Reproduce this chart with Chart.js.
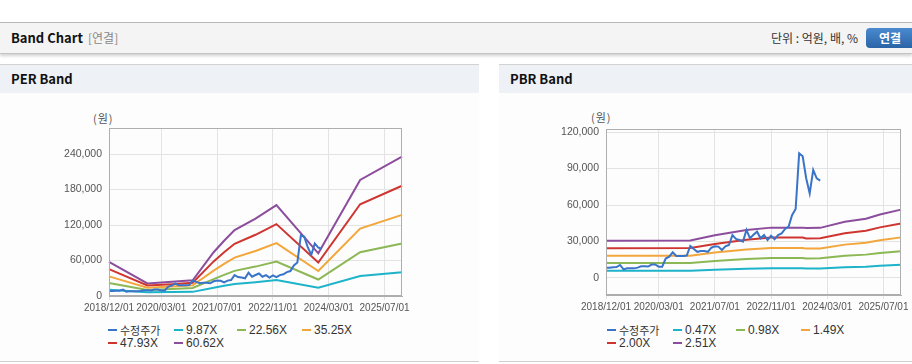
<!DOCTYPE html>
<html>
<head>
<meta charset="utf-8">
<script src="https://cdn.jsdelivr.net/npm/chart.js@4.4.1/dist/chart.umd.min.js"></script>
<style>
  html, body { margin:0; padding:0; }
  body { width:912px; height:364px; position:relative; overflow:hidden; background:#fff;
         font-family:'Noto Sans CJK KR','Liberation Sans',sans-serif; }
  #topbar { position:absolute; left:0; top:22px; width:912px; height:30px; background:#f4f4f4;
            border-top:1px solid #b9b9b9; border-bottom:1px solid #c4c4c4; box-shadow:0 2px 3px rgba(0,0,0,0.18); }
  #title { position:absolute; left:11px; top:6px; font-size:13px; font-weight:bold; color:#111; line-height:18px; }
  #sub { position:absolute; left:88px; top:6px; font-size:12px; color:#888; line-height:18px; }
  #unit { position:absolute; left:771px; top:6px; font-size:12px; color:#333; line-height:18px; }
  #btn { position:absolute; left:866px; top:5px; width:52px; height:20px; border-radius:4px;
         background:linear-gradient(#4a8ad0,#2a64a6); color:#fff; font-size:12px; font-weight:bold;
         line-height:20px; text-indent:13px; }
  .phead { position:absolute; top:64px; height:28px; background:#eef2f7; border-top:1px solid #d2d2d2; }
  .phead span { position:absolute; left:11px; top:5px; font-size:13px; font-weight:bold; color:#111; line-height:18px; }
  .pbody { position:absolute; top:93px; height:268px; background:#fdfdfd; border-bottom:1px solid #cfcfcf; }
  .unitlbl { position:absolute; font-size:11px; color:#555; line-height:14px; letter-spacing:1px; }
  canvas { position:absolute; }
  .legend { position:absolute; display:grid; grid-template-columns:66px 63px 65px 65px; row-gap:0px; }
  .li { height:13px; display:flex; align-items:center; font-family:'Liberation Sans',sans-serif; font-size:12px; color:#333; white-space:nowrap; }
  .li i { display:inline-block; width:9px; height:2px; margin-right:3px; }
  .li .ko { font-family:'Noto Sans CJK KR',sans-serif; font-size:11px; }
</style>
</head>
<body>
<div id="topbar">
  <div id="title">Band Chart</div>
  <div id="sub">[연결]</div>
  <div id="unit">단위 : 억원, 배, %</div>
  <div id="btn">연결</div>
</div>

<div class="phead" style="left:0;width:479px;"><span>PER Band</span></div>
<div class="phead" style="left:499px;width:413px;"><span>PBR Band</span></div>
<div class="pbody" style="left:0;width:479px;"></div>
<div class="pbody" style="left:499px;width:413px;"></div>

<div class="unitlbl" style="left:93px;top:111px;">(원)</div>
<div class="unitlbl" style="left:591px;top:110px;">(원)</div>

<canvas id="per" width="479" height="222" style="left:0;top:95px;width:479px;height:222px;"></canvas>
<canvas id="pbr" width="413" height="222" style="left:499px;top:95px;width:413px;height:222px;"></canvas>

<div class="legend" id="perLegend" style="left:108px;top:323px;"></div>
<div class="legend" id="pbrLegend" style="left:607px;top:323px;"></div>

<script>
// ---- categories (monthly) ----
const labels = [
 '2018/12/01',
 '2019/01/01','2019/02/01','2019/03/01','2019/04/01','2019/05/01','2019/06/01','2019/07/01','2019/08/01','2019/09/01','2019/10/01','2019/11/01','2019/12/01',
 '2020/01/01','2020/02/01','2020/03/01','2020/04/01','2020/05/01','2020/06/01','2020/07/01','2020/08/01','2020/09/01','2020/10/01','2020/11/01','2020/12/01',
 '2021/01/01','2021/02/01','2021/03/01','2021/04/01','2021/05/01','2021/06/01','2021/07/01','2021/08/01','2021/09/01','2021/10/01','2021/11/01','2021/12/01',
 '2022/01/01','2022/02/01','2022/03/01','2022/04/01','2022/05/01','2022/06/01','2022/07/01','2022/08/01','2022/09/01','2022/10/01','2022/11/01','2022/12/01',
 '2023/01/01','2023/02/01','2023/03/01','2023/04/01','2023/05/01','2023/06/01','2023/07/01','2023/08/01','2023/09/01','2023/10/01','2023/11/01','2023/12/01',
 '2024/01/01','2024/02/01','2024/03/01','2024/04/01','2024/05/01','2024/06/01','2024/07/01','2024/08/01','2024/09/01','2024/10/01','2024/11/01','2024/12/01',
 '2025/01/01','2025/02/01','2025/03/01','2025/04/01','2025/05/01','2025/06/01','2025/07/01','2025/08/01','2025/09/01','2025/10/01','2025/11/01','2025/12/01'
];
const tickLabels = ['2018/12/01','2020/03/01','2021/07/01','2022/11/01','2024/03/01','2025/07/01'];

// ---- adjusted share price (수정주가), monthly ----
const price = [8500,8500,8800,9000,10700,7100,7900,7900,7900,8500,9600,9600,9400,11000,11100,9300,9300,16000,17500,21100,
  18100,18100,18100,18500,26300,23800,21500,22200,22200,21500,24900,26000,25800,23000,26000,27100,35300,32100,31200,29900,
  39500,32600,35500,38100,32600,35300,31200,34800,31800,35300,36700,40300,42200,51800,56700,102500,100000,82000,69600,88800,
  81900,80000];

// ---- PER band values at knot months ----
const perDates = ['2018/12/01','2019/11/01','2020/06/01','2020/12/01','2021/06/01','2021/09/01','2021/12/01','2022/06/01','2022/12/01','2023/12/01','2024/12/01','2025/12/01'];
const per987  = [10500, 6400, 6600, 7000, 14000, 17200, 20200, 23300, 27000, 14000, 33900, 40200];
const per2256 = [22000, 10200, 12000, 13500, 28500, 35700, 42500, 49700, 58200, 27900, 74000, 88800];
const per3525 = [33200, 14000, 16000, 18200, 43000, 54300, 64900, 76100, 89400, 42300, 114000, 137100];
const per4793 = [45500, 17800, 20000, 22300, 58500, 73800, 88200, 103500, 121500, 56700, 155100, 186400];
const per6062 = [57500, 21200, 24000, 26500, 74000, 93400, 111500, 130900, 153700, 72100, 196100, 235800];

// ---- PBR band values at knot months ----
const pbrDates = ['2018/12/01','2020/12/01','2021/07/01','2022/04/01','2022/11/01','2023/08/01','2023/09/01','2024/01/01','2024/08/01','2025/02/01','2025/06/01','2025/12/01'];
const pbr047 = [6000, 6000, 6700, 7500, 7900, 7900, 7800, 7800, 8800, 9300, 10000, 10900];
const pbr098 = [12300, 12300, 13900, 15600, 16500, 16500, 16100, 16200, 18200, 19200, 20600, 21900];
const pbr149 = [18220, 18330, 20860, 23390, 24730, 24730, 24140, 24290, 27420, 28910, 30990, 33380];
const pbr200 = [24460, 24600, 28000, 31400, 33200, 33200, 32400, 32600, 36800, 38800, 41600, 44800];
const pbr251 = [30700, 30870, 35140, 39410, 41400, 41400, 41100, 41200, 46180, 48690, 52210, 56220];

const perTicks = [0, 60000, 120000, 180000, 240000];
const pbrTicks = [0, 30000, 60000, 90000, 120000];

const colors = { price:'#3a74c8', c1:'#1db3c9', c2:'#8cb755', c3:'#f2a63c', c4:'#cf3530', c5:'#8c4d9c' };

const pts = (dates, vals) => dates.map((d, k) => ({ x: d, y: vals[k] }));

Chart.defaults.font.family = "'Liberation Sans',Arial,sans-serif";
Chart.defaults.font.size = 10;
Chart.defaults.color = '#555';

const boxPlugin = {
  id: 'box',
  afterDraw(chart) {
    const a = chart.chartArea, ctx = chart.ctx;
    ctx.save();
    ctx.strokeStyle = '#aeaeae';
    ctx.lineWidth = 1;
    ctx.strokeRect(Math.round(a.left) + 0.5, Math.round(a.top) + 0.5, Math.round(a.right - a.left) - 1, Math.round(a.bottom - a.top) - 1);
    ctx.restore();
  }
};

function makeChart(id, series, names, yMin, yMax, yTicks, pad, yWidth, xHeight) {
  const keys = ['price','c1','c2','c3','c4','c5'];
  const datasets = series.map((s, k) => ({
    label: names[k], data: s, borderColor: colors[keys[k]], backgroundColor: colors[keys[k]],
    borderWidth: 2, pointRadius: 0, tension: 0, fill: false
  }));
  return new Chart(document.getElementById(id), {
    type: 'line',
    data: { labels, datasets },
    options: {
      responsive: false, animation: false, devicePixelRatio: 1,
      layout: { padding: pad },
      plugins: { legend: { display: false }, tooltip: { enabled: false } },
      scales: {
        x: {
          type: 'category',
          afterBuildTicks: ax => { ax.ticks = ax.ticks.filter(t => tickLabels.includes(labels[t.value])); },
          afterFit: ax => { ax.height = xHeight; },
          grid: { color: '#e3e3e3', tickLength: 4 },
          border: { color: '#aeaeae' },
          ticks: { autoSkip: false, maxRotation: 0, minRotation: 0, padding: 2, color: '#555' }
        },
        y: {
          min: yMin, max: yMax,
          afterBuildTicks: ax => { ax.ticks = yTicks.map(v => ({ value: v })); },
          afterFit: ax => { ax.width = yWidth; },
          grid: { color: '#e3e3e3', drawTicks: false },
          border: { color: '#aeaeae' },
          ticks: { padding: 7, color: '#555', font: { size: 10.5 }, callback: v => Number(v).toLocaleString('en-US') }
        }
      }
    },
    plugins: [boxPlugin]
  });
}

const perNames = ['수정주가','9.87X','22.56X','35.25X','47.93X','60.62X'];
const pbrNames = ['수정주가','0.47X','0.98X','1.49X','2.00X','2.51X'];

makeChart('per',
  [price, pts(perDates, per987), pts(perDates, per2256), pts(perDates, per3525), pts(perDates, per4793), pts(perDates, per6062)],
  perNames, 0, 284000, perTicks, { left: 0, right: 77, top: 33, bottom: 0 }, 109, 21);

makeChart('pbr',
  [price, pts(pbrDates, pbr047), pts(pbrDates, pbr098), pts(pbrDates, pbr149), pts(pbrDates, pbr200), pts(pbrDates, pbr251)],
  pbrNames, -14000, 122500, pbrTicks, { left: 0, right: 11, top: 34, bottom: 0 }, 107, 22);

function legend(id, names) {
  const keys = ['price','c1','c2','c3','c4','c5'];
  const el = document.getElementById(id);
  names.forEach((n, k) => {
    const d = document.createElement('div');
    d.className = 'li';
    const m = document.createElement('i');
    m.style.background = colors[keys[k]];
    d.appendChild(m);
    const t = document.createElement('span');
    if (/[가-힣]/.test(n)) t.className = 'ko';
    t.textContent = n;
    d.appendChild(t);
    el.appendChild(d);
  });
}
legend('perLegend', perNames);
legend('pbrLegend', pbrNames);
</script>
</body>
</html>
